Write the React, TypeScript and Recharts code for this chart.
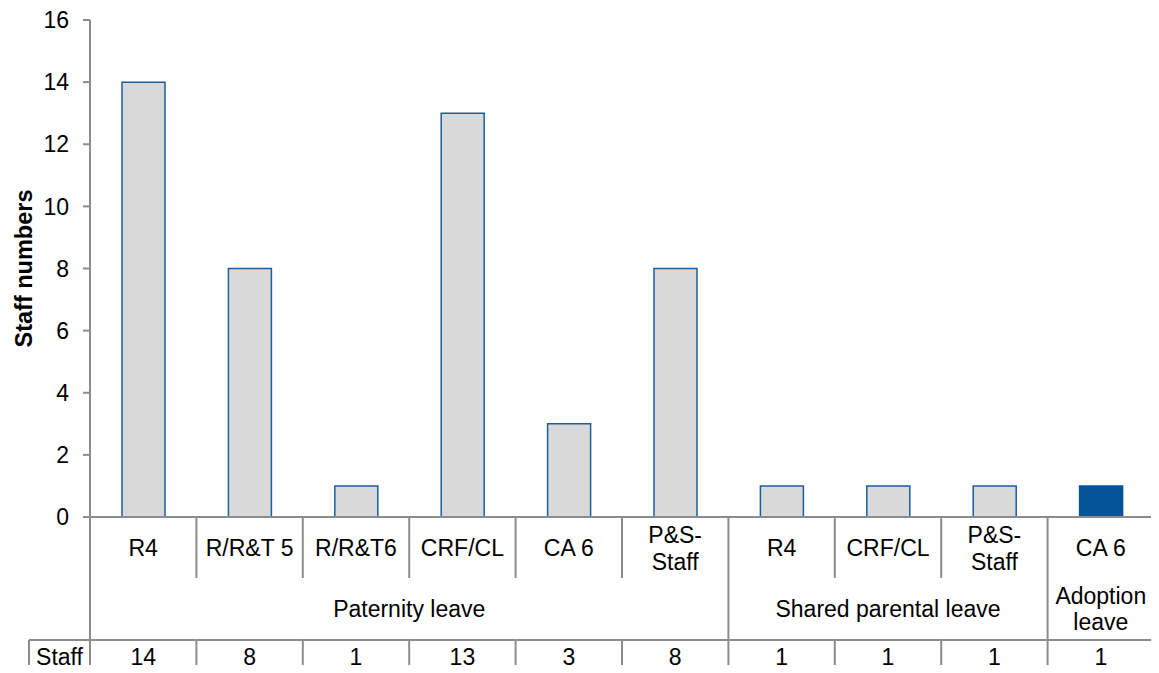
import { BarChart, Bar, XAxis, YAxis, Cell } from "recharts";

const categories = ["R4", "R/R&T 5", "R/R&T6", "CRF/CL", "CA 6", "P&S-\nStaff", "R4", "CRF/CL", "P&S-\nStaff", "CA 6"];
const groups = [
  "Paternity leave", "Paternity leave", "Paternity leave", "Paternity leave", "Paternity leave", "Paternity leave",
  "Shared parental leave", "Shared parental leave", "Shared parental leave",
  "Adoption\nleave",
];
const staff = [14, 8, 1, 13, 3, 8, 1, 1, 1, 1];
const yTicks = [0, 2, 4, 6, 8, 10, 12, 14, 16];
const highlighted = [9];

const data = categories.map((cat, i) => ({ cat, group: groups[i], staff: staff[i] }));

const FONT = '"Liberation Sans", Arial, sans-serif';
const GRID = "#8c8c8c";
const FS = 23;

const MultiText = ({ x, y, text, lh = 27 }: { x: number; y: number; text: string; lh?: number }) => {
  const lines = text.split("\n");
  const start = y - ((lines.length - 1) * lh) / 2;
  return (
    <text x={x} textAnchor="middle" dominantBaseline="central" fontFamily={FONT} fontSize={FS} fill="#000">
      {lines.map((l, i) => (
        <tspan key={i} x={x} y={start + i * lh}>
          {l}
        </tspan>
      ))}
    </text>
  );
};

const TableTick = (props: any) => {
  const { x, y, index, payload } = props;
  const half = payload?.offset || 53.2;
  const i = index ?? payload?.index ?? 0;
  const left = x - half;
  const right = x + half;
  const groupEnd = i === groups.length - 1 || groups[i + 1] !== groups[i];
  const groupStart = i === 0 || groups[i - 1] !== groups[i];
  let span = 0;
  if (groupStart) {
    while (i + span < groups.length && groups[i + span] === groups[i]) span++;
  }
  return (
    <g>
      <MultiText x={x} y={y + 31} text={categories[i]} />
      {groupStart && <MultiText x={left + span * half} y={y + 92} text={groups[i]} lh={26} />}
      <text x={x} y={y + 140} textAnchor="middle" dominantBaseline="central" fontFamily={FONT} fontSize={FS} fill="#000">
        {staff[i]}
      </text>
      <line x1={right} x2={right} y1={y} y2={groupEnd ? y + 156 : y + 61} stroke={GRID} strokeWidth={2} />
      {!groupEnd && <line x1={right} x2={right} y1={y + 123} y2={y + 156} stroke={GRID} strokeWidth={2} />}
      <line x1={left} x2={right} y1={y + 123} y2={y + 123} stroke={GRID} strokeWidth={2} />
      {i === 0 && (
        <g>
          <line x1={left} x2={left} y1={y} y2={y + 156} stroke={GRID} strokeWidth={2} />
          <line x1={29} x2={left} y1={y + 123} y2={y + 123} stroke={GRID} strokeWidth={2} />
          <line x1={29} x2={29} y1={y + 123} y2={y + 156} stroke={GRID} strokeWidth={2} />
          <text x={(29 + left) / 2} y={y + 140} textAnchor="middle" dominantBaseline="central" fontFamily={FONT} fontSize={FS} fill="#000">
            Staff
          </text>
        </g>
      )}
    </g>
  );
};

const AxisTitle = (props: any) => {
  const vb = props.viewBox || { x: 0, y: 20, width: 90, height: 497 };
  const cy = vb.y + vb.height / 2;
  return (
    <text
      x={24}
      y={cy}
      transform={`rotate(-90, 24, ${cy})`}
      textAnchor="middle"
      dominantBaseline="central"
      fontFamily={FONT}
      fontSize={23.5}
      fontWeight="bold"
      fill="#000"
    >
      Staff numbers
    </text>
  );
};

export default function App() {
  return (
    <div style={{ margin: -8, width: 1159, height: 673, background: "#fff" }}>
      <BarChart width={1159} height={673} data={data} margin={{ top: 20, right: 5, left: 0, bottom: 0 }}>
        <XAxis
          dataKey="cat"
          height={156}
          interval={0}
          tickLine={false}
          tickSize={0}
          tickMargin={0}
          axisLine={{ stroke: GRID, strokeWidth: 2 }}
          tick={<TableTick />}
        />
        <YAxis
          width={90}
          domain={[0, 16]}
          ticks={yTicks}
          interval={0}
          tickSize={7}
          tickMargin={14}
          axisLine={{ stroke: GRID, strokeWidth: 2 }}
          tickLine={{ stroke: GRID, strokeWidth: 2 }}
          tick={{ fill: "#000", fontSize: FS, fontFamily: FONT }}
          label={<AxisTitle />}
        />
        <Bar dataKey="staff" barSize={43} isAnimationActive={false}>
          {data.map((_, i) => (
            <Cell
              key={i}
              fill={highlighted.includes(i) ? "#05549a" : "#d9d9d9"}
              stroke={highlighted.includes(i) ? "#05549a" : "#1d5d9e"}
              strokeWidth={1.5}
            />
          ))}
        </Bar>
      </BarChart>
    </div>
  );
}
